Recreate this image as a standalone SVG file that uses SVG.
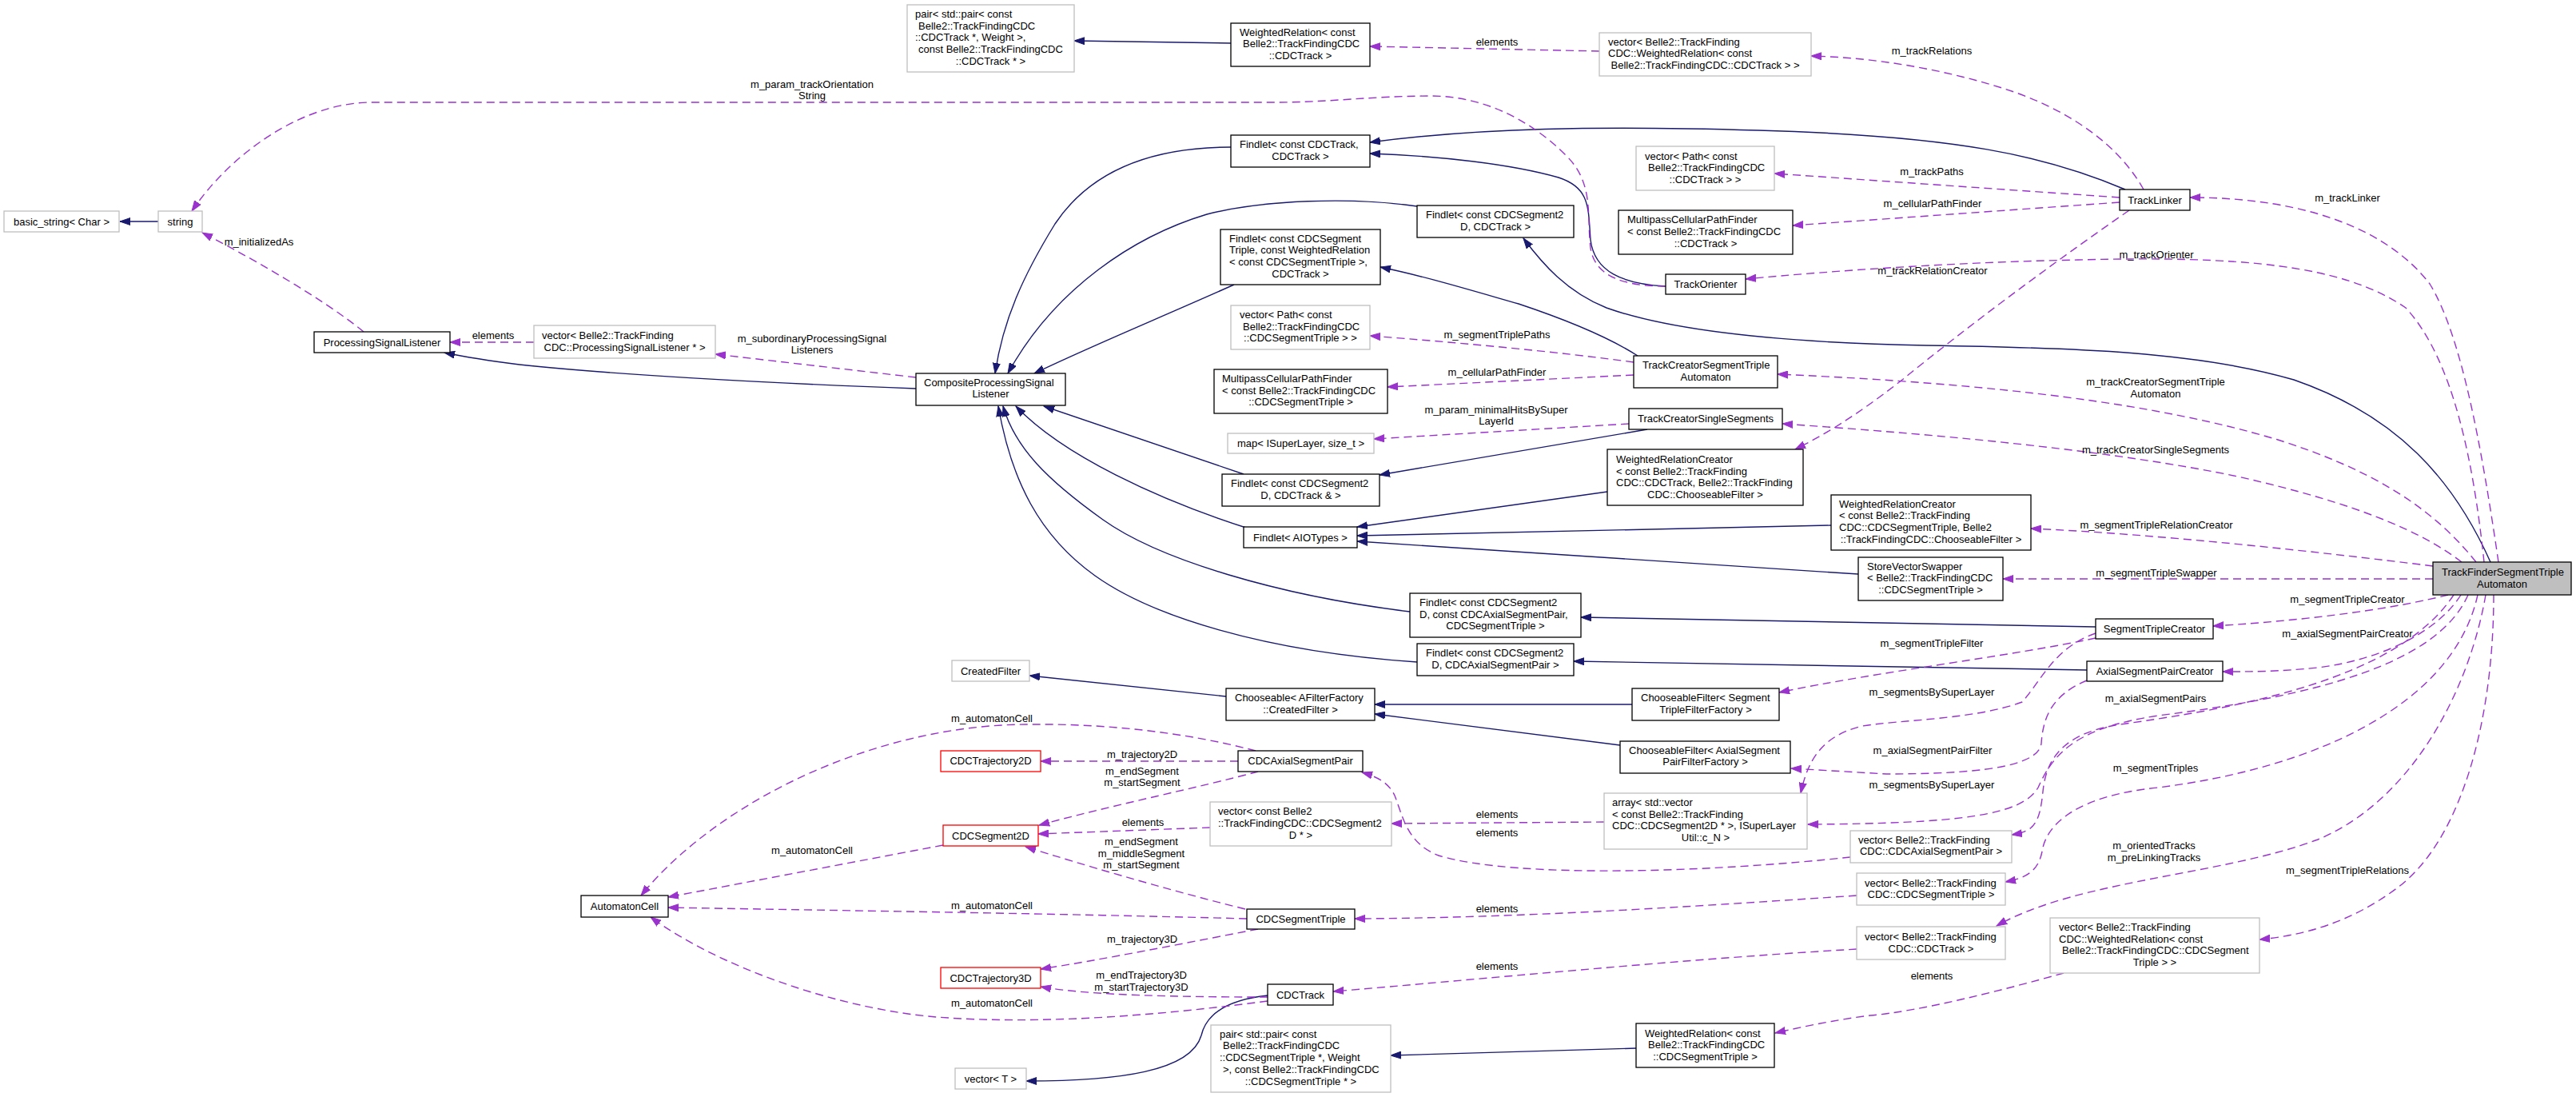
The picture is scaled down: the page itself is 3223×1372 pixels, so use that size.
<svg xmlns="http://www.w3.org/2000/svg" width="3223" height="1372" viewBox="0 0 3223 1372">
<defs>
<style>
text{font-family:"Liberation Sans",Arial,Helvetica,sans-serif;font-size:13px;fill:#000}
.m{text-anchor:middle}
.b rect{fill:#fff;stroke:#000;stroke-width:1.3}
.g rect{fill:#fff;stroke:#bfbfbf;stroke-width:1.3}
.r rect{fill:#fff;stroke:#ff0000;stroke-width:1.3}
.f rect{fill:#bfbfbf;stroke:#000;stroke-width:1.3}
.s{fill:none;stroke:#191970;stroke-width:1.4;marker-end:url(#an)}
.d{fill:none;stroke:#9a32cd;stroke-width:1.4;stroke-dasharray:10,6;marker-end:url(#ap)}
</style>
<marker id="an" markerUnits="userSpaceOnUse" markerWidth="14" markerHeight="10" viewBox="0 0 14 10" refX="13" refY="5" orient="auto"><path d="M0,0.5L13,5L0,9.5z" fill="#191970" stroke="#191970"/></marker>
<marker id="ap" markerUnits="userSpaceOnUse" markerWidth="14" markerHeight="10" viewBox="0 0 14 10" refX="13" refY="5" orient="auto"><path d="M0,0.5L13,5L0,9.5z" fill="#9a32cd" stroke="#9a32cd"/></marker>
</defs>
<rect x="0" y="0" width="3223" height="1372" fill="#fff"/>
<g id="connectors">
<path class="s" d="M198,277 L150,277"/>
<path class="s" d="M1146,486 C955,479 760,468 650,456 C610,451 580,446 556,441"/>
<path class="s" d="M1540,184 C1430,184 1360,220 1320,280 C1280,345 1255,400 1245,467"/>
<path class="s" d="M1773,258 C1690,246 1580,250 1510,268 C1420,295 1320,360 1261,467"/>
<path class="s" d="M1544,356 C1450,398 1360,435 1294,467"/>
<path class="s" d="M1556,593 L1306,508"/>
<path class="s" d="M1559,660 C1450,625 1330,570 1271,508"/>
<path class="s" d="M1764,765 C1600,745 1450,700 1380,650 C1310,600 1270,560 1255,508"/>
<path class="s" d="M1773,828 C1580,815 1440,770 1370,720 C1300,670 1265,600 1249,508"/>
<path class="s" d="M1540,54 L1344,51"/>
<path class="s" d="M2659,237 C2560,195 2450,170 2200,163 C2000,157 1850,160 1714,178"/>
<path class="s" d="M2084,358 C2030,355 1995,340 1990,300 C1987,260 1990,235 1950,222 C1890,205 1800,195 1714,192"/>
<path class="s" d="M3116,703 C3070,600 3000,520 2870,475 C2750,440 2600,435 2410,432 C2200,428 2080,410 2010,385 C1960,365 1930,330 1906,298"/>
<path class="s" d="M2049,445 C2010,420 1960,400 1900,380 C1830,360 1780,345 1727,334"/>
<path class="s" d="M2061,537 L1726,594"/>
<path class="s" d="M2011,615 L1698,659"/>
<path class="s" d="M2291,657 L1698,670"/>
<path class="s" d="M2325,718 L1698,677"/>
<path class="s" d="M2622,784 L1978,772"/>
<path class="s" d="M2611,838 L1969,827"/>
<path class="s" d="M2042,881 L1720,881"/>
<path class="s" d="M2027,932 L1720,893"/>
<path class="s" d="M1534,871 L1288,845"/>
<path class="s" d="M2047,1311 L1740,1320"/>
<path class="s" d="M1586,1245 C1540,1250 1510,1265 1503,1295 C1490,1340 1400,1352 1284,1352"/>

<path class="d" d="M455,415 C400,370 300,315 253,291"/>
<path class="d" d="M668,428 L563,428"/>
<path class="d" d="M1146,472 L895,443"/>
<path class="d" d="M2084,358 C2030,358 1995,345 1990,310 C1985,270 1995,230 1960,195 C1910,145 1850,120 1790,120 C1720,120 1660,128 1600,128 L465,128 C380,128 290,190 240,264"/>
<path class="d" d="M2001,64 L1714,58"/>
<path class="d" d="M2682,237 C2650,180 2590,140 2520,115 C2440,88 2350,72 2266,70"/>
<path class="d" d="M2652,247 L2220,217"/>
<path class="d" d="M2652,253 L2243,282"/>
<path class="d" d="M2664,263 C2560,335 2460,410 2380,475 C2320,522 2280,545 2246,562"/>
<path class="d" d="M3126,703 C3105,560 3080,420 3040,355 C2990,290 2890,247 2740,247"/>
<path class="d" d="M3108,703 C3095,580 3070,450 3010,385 C2930,330 2800,320 2600,325 C2450,328 2300,338 2184,349"/>
<path class="d" d="M2044,453 C1950,440 1820,428 1714,420"/>
<path class="d" d="M2044,469 L1736,484"/>
<path class="d" d="M2038,530 L1719,549"/>
<path class="d" d="M3098,703 C3040,630 2960,585 2850,550 C2700,505 2500,480 2224,468"/>
<path class="d" d="M3080,703 C3030,665 2950,630 2800,596 C2650,565 2450,545 2230,530"/>
<path class="d" d="M3044,708 C2900,690 2700,668 2541,661"/>
<path class="d" d="M3044,724 L2506,724"/>
<path class="d" d="M3063,744 C3000,760 2900,775 2769,783"/>
<path class="d" d="M3079,744 C3050,790 2980,825 2900,835 C2850,840 2820,840 2781,840"/>
<path class="d" d="M2622,798 C2520,820 2350,840 2226,866"/>
<path class="d" d="M2622,792 C2570,810 2555,850 2530,878 C2470,900 2380,900 2330,908 C2280,920 2262,950 2253,992"/>
<path class="d" d="M2611,851 C2565,870 2556,900 2554,930 C2550,960 2470,968 2360,968 L2241,961"/>
<path class="d" d="M3070,744 C3000,850 2800,885 2660,905 C2580,915 2560,950 2556,990 C2552,1030 2545,1040 2517,1044"/>
<path class="d" d="M3088,744 C3050,830 2900,870 2700,895 C2600,910 2570,940 2550,985 C2530,1020 2450,1030 2262,1031"/>
<path class="d" d="M3100,744 C3070,880 2900,960 2700,985 C2600,995 2560,1030 2555,1065 C2550,1090 2535,1098 2509,1103"/>
<path class="d" d="M3110,744 C3090,860 3020,1000 2900,1050 C2780,1095 2600,1100 2498,1158"/>
<path class="d" d="M3120,744 C3120,900 3080,1050 3000,1110 C2940,1155 2880,1170 2827,1175"/>
<path class="d" d="M2315,1072 C2150,1090 1900,1100 1800,1070 C1760,1055 1755,1020 1745,995 C1738,980 1725,972 1704,966"/>
<path class="d" d="M2007,1028 L1741,1030"/>
<path class="d" d="M2323,1120 C2100,1135 1900,1148 1695,1149"/>
<path class="d" d="M2323,1187 C2100,1200 1850,1225 1668,1240"/>
<path class="d" d="M2582,1217 C2500,1240 2400,1265 2340,1270 C2300,1275 2260,1283 2221,1292"/>
<path class="d" d="M1549,952 L1302,952"/>
<path class="d" d="M1574,965 C1500,985 1400,1005 1300,1032"/>
<path class="d" d="M1571,939 C1480,915 1380,905 1290,906 C1100,905 900,1000 802,1120"/>
<path class="d" d="M1514,1035 L1299,1043"/>
<path class="d" d="M1180,1057 L836,1122"/>
<path class="d" d="M1558,1137 C1450,1110 1350,1080 1283,1059"/>
<path class="d" d="M1560,1149 C1300,1142 1000,1138 836,1135"/>
<path class="d" d="M1574,1162 C1480,1180 1380,1200 1302,1212"/>
<path class="d" d="M1586,1247 C1480,1247 1360,1245 1302,1234"/>
<path class="d" d="M1586,1252 C1450,1270 1300,1282 1172,1272 C1050,1262 900,1210 814,1147"/>

<text class="m" x="324" y="306.5">m_initializedAs</text>
<text class="m" x="617" y="423.5">elements</text>
<text class="m" x="1016" y="109.5">m_param_trackOrientation</text>
<text class="m" x="1016" y="123.5">String</text>
<text class="m" x="1016" y="427.5">m_subordinaryProcessingSignal</text>
<text class="m" x="1016" y="441.5">Listeners</text>
<text class="m" x="1873" y="56.5">elements</text>
<text class="m" x="2417" y="67.5">m_trackRelations</text>
<text class="m" x="2417" y="218.5">m_trackPaths</text>
<text class="m" x="2418" y="258.5">m_cellularPathFinder</text>
<text class="m" x="2418" y="342.5">m_trackRelationCreator</text>
<text class="m" x="2698" y="322.5">m_trackOrienter</text>
<text class="m" x="2937" y="251.5">m_trackLinker</text>
<text class="m" x="1873" y="422.5">m_segmentTriplePaths</text>
<text class="m" x="1873" y="469.5">m_cellularPathFinder</text>
<text class="m" x="1872" y="516.5">m_param_minimalHitsBySuper</text>
<text class="m" x="1872" y="530.5">LayerId</text>
<text class="m" x="2697" y="481.5">m_trackCreatorSegmentTriple</text>
<text class="m" x="2697" y="496.5">Automaton</text>
<text class="m" x="2697" y="566.5">m_trackCreatorSingleSegments</text>
<text class="m" x="2698" y="660.5">m_segmentTripleRelationCreator</text>
<text class="m" x="2698" y="720.5">m_segmentTripleSwapper</text>
<text class="m" x="2937" y="753.5">m_segmentTripleCreator</text>
<text class="m" x="2937" y="796.5">m_axialSegmentPairCreator</text>
<text class="m" x="2417" y="808.5">m_segmentTripleFilter</text>
<text class="m" x="2417" y="869.5">m_segmentsBySuperLayer</text>
<text class="m" x="2697" y="877.5">m_axialSegmentPairs</text>
<text class="m" x="2418" y="942.5">m_axialSegmentPairFilter</text>
<text class="m" x="2697" y="964.5">m_segmentTriples</text>
<text class="m" x="2417" y="985.5">m_segmentsBySuperLayer</text>
<text class="m" x="2695" y="1061.5">m_orientedTracks</text>
<text class="m" x="2695" y="1076.5">m_preLinkingTracks</text>
<text class="m" x="2937" y="1092.5">m_segmentTripleRelations</text>
<text class="m" x="1873" y="1022.5">elements</text>
<text class="m" x="1873" y="1045.5">elements</text>
<text class="m" x="1873" y="1140.5">elements</text>
<text class="m" x="1873" y="1212.5">elements</text>
<text class="m" x="2417" y="1224.5">elements</text>
<text class="m" x="1241" y="902.5">m_automatonCell</text>
<text class="m" x="1429" y="947.5">m_trajectory2D</text>
<text class="m" x="1429" y="968.5">m_endSegment</text>
<text class="m" x="1429" y="982.5">m_startSegment</text>
<text class="m" x="1430" y="1032.5">elements</text>
<text class="m" x="1428" y="1056.5">m_endSegment</text>
<text class="m" x="1428" y="1071.5">m_middleSegment</text>
<text class="m" x="1428" y="1085.5">m_startSegment</text>
<text class="m" x="1016" y="1067.5">m_automatonCell</text>
<text class="m" x="1241" y="1136.5">m_automatonCell</text>
<text class="m" x="1429" y="1178.5">m_trajectory3D</text>
<text class="m" x="1428" y="1223.5">m_endTrajectory3D</text>
<text class="m" x="1428" y="1238.5">m_startTrajectory3D</text>
<text class="m" x="1241" y="1258.5">m_automatonCell</text>
</g>

<g id="n_basic_string" class="g"><rect x="5" y="264" width="144" height="26"/><text class="m" x="77" y="281.5">basic_string&lt; Char &gt;</text></g>
<g id="n_string" class="g"><rect x="198" y="264" width="55" height="26"/><text class="m" x="225.5" y="281.5">string</text></g>
<g id="n_ProcessingSignalListener" class="b"><rect x="393" y="415" width="170" height="26"/><text class="m" x="478" y="432.5">ProcessingSignalListener</text></g>
<g id="n_vector_PSL" class="g"><rect x="668" y="407" width="227" height="41"/><text x="678" y="424">vector&lt; Belle2::TrackFinding</text><text class="m" x="781.5" y="438.5">CDC::ProcessingSignalListener * &gt;</text></g>
<g id="n_CompositeProcessingSignalListener" class="b"><rect x="1146" y="467" width="187" height="40"/><text x="1156" y="483">CompositeProcessingSignal</text><text class="m" x="1239.5" y="497">Listener</text></g>
<g id="n_pair_track" class="g"><rect x="1135" y="6" width="209" height="84"/><text x="1145" y="22">pair&lt; std::pair&lt; const</text><text x="1149" y="37">Belle2::TrackFindingCDC</text><text x="1145" y="51">::CDCTrack *, Weight &gt;,</text><text x="1149" y="66">const Belle2::TrackFindingCDC</text><text class="m" x="1239.5" y="81">::CDCTrack * &gt;</text></g>
<g id="n_WeightedRelation_track" class="b"><rect x="1540" y="29" width="174" height="54"/><text x="1551" y="44.5">WeightedRelation&lt; const</text><text x="1555" y="59">Belle2::TrackFindingCDC</text><text class="m" x="1627" y="74">::CDCTrack &gt;</text></g>
<g id="n_vector_WR_track" class="g"><rect x="2001" y="41" width="265" height="54"/><text x="2012" y="57">vector&lt; Belle2::TrackFinding</text><text x="2012" y="71">CDC::WeightedRelation&lt; const</text><text class="m" x="2133.5" y="86"> Belle2::TrackFindingCDC::CDCTrack &gt; &gt;</text></g>
<g id="n_Findlet_track" class="b"><rect x="1540" y="169" width="174" height="40"/><text x="1551" y="185">Findlet&lt; const CDCTrack,</text><text class="m" x="1627" y="199.5">CDCTrack &gt;</text></g>
<g id="n_vector_path_track" class="g"><rect x="2047" y="183" width="173" height="55"/><text x="2058" y="199.5">vector&lt; Path&lt; const</text><text x="2062" y="214">Belle2::TrackFindingCDC</text><text class="m" x="2133.5" y="228.5">::CDCTrack &gt; &gt;</text></g>
<g id="n_TrackLinker" class="b"><rect x="2652" y="237" width="88" height="26"/><text class="m" x="2696" y="254.5">TrackLinker</text></g>
<g id="n_MCPF_track" class="b"><rect x="2025" y="263" width="218" height="55"/><text x="2036" y="279">MultipassCellularPathFinder</text><text x="2036" y="294">&lt; const Belle2::TrackFindingCDC</text><text class="m" x="2134" y="308.5">::CDCTrack &gt;</text></g>
<g id="n_Findlet_seg2d_track" class="b"><rect x="1773" y="257" width="196" height="40"/><text x="1784" y="273">Findlet&lt; const CDCSegment2</text><text class="m" x="1871" y="288">D, CDCTrack &gt;</text></g>
<g id="n_Findlet_triple" class="b"><rect x="1527" y="287" width="200" height="69"/><text x="1538" y="303">Findlet&lt; const CDCSegment</text><text x="1538" y="317">Triple, const WeightedRelation</text><text x="1538" y="332">&lt; const CDCSegmentTriple &gt;,</text><text class="m" x="1627" y="347">CDCTrack &gt;</text></g>
<g id="n_TrackOrienter" class="b"><rect x="2084" y="343" width="100" height="25"/><text class="m" x="2134" y="360">TrackOrienter</text></g>
<g id="n_vector_path_triple" class="g"><rect x="1540" y="382" width="174" height="55"/><text x="1551" y="398">vector&lt; Path&lt; const</text><text x="1555" y="412.5">Belle2::TrackFindingCDC</text><text class="m" x="1627" y="427">::CDCSegmentTriple &gt; &gt;</text></g>
<g id="n_TrackCreatorSegmentTripleAutomaton" class="b"><rect x="2044" y="445" width="180" height="40"/><text x="2055" y="461">TrackCreatorSegmentTriple</text><text class="m" x="2134" y="476">Automaton</text></g>
<g id="n_MCPF_triple" class="b"><rect x="1519" y="462" width="217" height="55"/><text x="1529" y="478">MultipassCellularPathFinder</text><text x="1529" y="493">&lt; const Belle2::TrackFindingCDC</text><text class="m" x="1627.5" y="507">::CDCSegmentTriple &gt;</text></g>
<g id="n_TrackCreatorSingleSegments" class="b"><rect x="2038" y="511" width="192" height="26"/><text class="m" x="2134" y="528">TrackCreatorSingleSegments</text></g>
<g id="n_map" class="g"><rect x="1536" y="542" width="183" height="25"/><text class="m" x="1627.5" y="559">map&lt; ISuperLayer, size_t &gt;</text></g>
<g id="n_WRC_track" class="b"><rect x="2011" y="562" width="245" height="70"/><text x="2022" y="579">WeightedRelationCreator</text><text x="2022" y="593.5">&lt; const Belle2::TrackFinding</text><text x="2022" y="608">CDC::CDCTrack, Belle2::TrackFinding</text><text class="m" x="2133.5" y="623">CDC::ChooseableFilter &gt;</text></g>
<g id="n_Findlet_seg2d_trackref" class="b"><rect x="1529" y="593" width="197" height="40"/><text x="1540" y="609">Findlet&lt; const CDCSegment2</text><text class="m" x="1627.5" y="624">D, CDCTrack &amp; &gt;</text></g>
<g id="n_WRC_triple" class="b"><rect x="2291" y="619" width="250" height="69"/><text x="2301" y="635">WeightedRelationCreator</text><text x="2301" y="649">&lt; const Belle2::TrackFinding</text><text x="2301" y="664">CDC::CDCSegmentTriple, Belle2</text><text class="m" x="2416" y="679">::TrackFindingCDC::ChooseableFilter &gt;</text></g>
<g id="n_Findlet_AIOTypes" class="b"><rect x="1556" y="659" width="142" height="26"/><text class="m" x="1627" y="676.5">Findlet&lt; AIOTypes &gt;</text></g>
<g id="n_TrackFinderSegmentTripleAutomaton" class="f"><rect x="3044" y="703" width="173" height="41"/><text x="3055" y="720">TrackFinderSegmentTriple</text><text class="m" x="3130.5" y="734.5">Automaton</text></g>
<g id="n_StoreVectorSwapper" class="b"><rect x="2325" y="697" width="181" height="54"/><text x="2336" y="713">StoreVectorSwapper</text><text x="2336" y="727">&lt; Belle2::TrackFindingCDC</text><text class="m" x="2415.5" y="742">::CDCSegmentTriple &gt;</text></g>
<g id="n_Findlet_stc" class="b"><rect x="1764" y="742" width="214" height="55"/><text x="1776" y="758">Findlet&lt; const CDCSegment2</text><text x="1776" y="773">D, const CDCAxialSegmentPair,</text><text class="m" x="1871" y="787">CDCSegmentTriple &gt;</text></g>
<g id="n_SegmentTripleCreator" class="b"><rect x="2622" y="774" width="147" height="25"/><text class="m" x="2695.5" y="791">SegmentTripleCreator</text></g>
<g id="n_Findlet_aspc" class="b"><rect x="1773" y="805" width="196" height="40"/><text x="1784" y="821">Findlet&lt; const CDCSegment2</text><text class="m" x="1871" y="835.5">D, CDCAxialSegmentPair &gt;</text></g>
<g id="n_AxialSegmentPairCreator" class="b"><rect x="2611" y="827" width="170" height="25"/><text class="m" x="2696" y="844">AxialSegmentPairCreator</text></g>
<g id="n_CreatedFilter" class="g"><rect x="1191" y="826" width="97" height="26"/><text class="m" x="1239.5" y="843.5">CreatedFilter</text></g>
<g id="n_Chooseable" class="b"><rect x="1534" y="861" width="186" height="40"/><text x="1545" y="877">Chooseable&lt; AFilterFactory</text><text class="m" x="1627" y="892">::CreatedFilter &gt;</text></g>
<g id="n_CF_triple" class="b"><rect x="2042" y="861" width="184" height="40"/><text x="2053" y="877">ChooseableFilter&lt; Segment</text><text class="m" x="2134" y="892">TripleFilterFactory &gt;</text></g>
<g id="n_CF_axial" class="b"><rect x="2027" y="927" width="213" height="40"/><text x="2038" y="943">ChooseableFilter&lt; AxialSegment</text><text class="m" x="2133.5" y="957">PairFilterFactory &gt;</text></g>
<g id="n_CDCAxialSegmentPair" class="b"><rect x="1549" y="939" width="156" height="26"/><text class="m" x="1627" y="956">CDCAxialSegmentPair</text></g>
<g id="n_CDCTrajectory2D" class="r"><rect x="1177" y="939" width="125" height="26"/><text class="m" x="1239.5" y="956">CDCTrajectory2D</text></g>
<g id="n_array" class="g"><rect x="2007" y="992" width="254" height="70"/><text x="2017" y="1008">array&lt; std::vector</text><text x="2017" y="1023">&lt; const Belle2::TrackFinding</text><text x="2017" y="1037">CDC::CDCSegment2D * &gt;, ISuperLayer</text><text class="m" x="2134" y="1052">Util::c_N &gt;</text></g>
<g id="n_vector_seg2d" class="g"><rect x="1514" y="1003" width="227" height="55"/><text x="1524" y="1019">vector&lt; const Belle2</text><text x="1524" y="1034">::TrackFindingCDC::CDCSegment2</text><text class="m" x="1627.5" y="1048.5">D * &gt;</text></g>
<g id="n_CDCSegment2D" class="r"><rect x="1180" y="1032" width="119" height="26"/><text class="m" x="1239.5" y="1049.5">CDCSegment2D</text></g>
<g id="n_vector_axialpair" class="g"><rect x="2315" y="1039" width="202" height="40"/><text x="2325" y="1055">vector&lt; Belle2::TrackFinding</text><text class="m" x="2416" y="1069">CDC::CDCAxialSegmentPair &gt;</text></g>
<g id="n_vector_segtriple" class="g"><rect x="2323" y="1092" width="186" height="40"/><text x="2333" y="1108.5">vector&lt; Belle2::TrackFinding</text><text class="m" x="2416" y="1123">CDC::CDCSegmentTriple &gt;</text></g>
<g id="n_AutomatonCell" class="b"><rect x="727" y="1120" width="109" height="27"/><text class="m" x="781.5" y="1138">AutomatonCell</text></g>
<g id="n_CDCSegmentTriple" class="b"><rect x="1560" y="1137" width="135" height="25"/><text class="m" x="1627.5" y="1154">CDCSegmentTriple</text></g>
<g id="n_vector_WR_triple" class="g"><rect x="2565" y="1148" width="262" height="69"/><text x="2576" y="1164">vector&lt; Belle2::TrackFinding</text><text x="2576" y="1178.5">CDC::WeightedRelation&lt; const</text><text x="2580" y="1193">Belle2::TrackFindingCDC::CDCSegment</text><text class="m" x="2696" y="1208">Triple &gt; &gt;</text></g>
<g id="n_vector_track" class="g"><rect x="2323" y="1159" width="186" height="41"/><text x="2333" y="1176">vector&lt; Belle2::TrackFinding</text><text class="m" x="2416" y="1190.5">CDC::CDCTrack &gt;</text></g>
<g id="n_CDCTrajectory3D" class="r"><rect x="1177" y="1210" width="125" height="26"/><text class="m" x="1239.5" y="1227.5">CDCTrajectory3D</text></g>
<g id="n_CDCTrack" class="b"><rect x="1586" y="1231" width="82" height="26"/><text class="m" x="1627" y="1248.5">CDCTrack</text></g>
<g id="n_WeightedRelation_triple" class="b"><rect x="2047" y="1280" width="173" height="55"/><text x="2058" y="1297">WeightedRelation&lt; const</text><text x="2062" y="1311">Belle2::TrackFindingCDC</text><text class="m" x="2133.5" y="1326">::CDCSegmentTriple &gt;</text></g>
<g id="n_pair_triple" class="g"><rect x="1515" y="1282" width="225" height="84"/><text x="1526" y="1298">pair&lt; std::pair&lt; const</text><text x="1530" y="1312">Belle2::TrackFindingCDC</text><text x="1526" y="1327">::CDCSegmentTriple *, Weight</text><text x="1530" y="1342">&gt;, const Belle2::TrackFindingCDC</text><text class="m" x="1627.5" y="1357">::CDCSegmentTriple * &gt;</text></g>
<g id="n_vector_T" class="g"><rect x="1195" y="1336" width="89" height="26"/><text class="m" x="1239.5" y="1353.5">vector&lt; T &gt;</text></g>
</svg>
